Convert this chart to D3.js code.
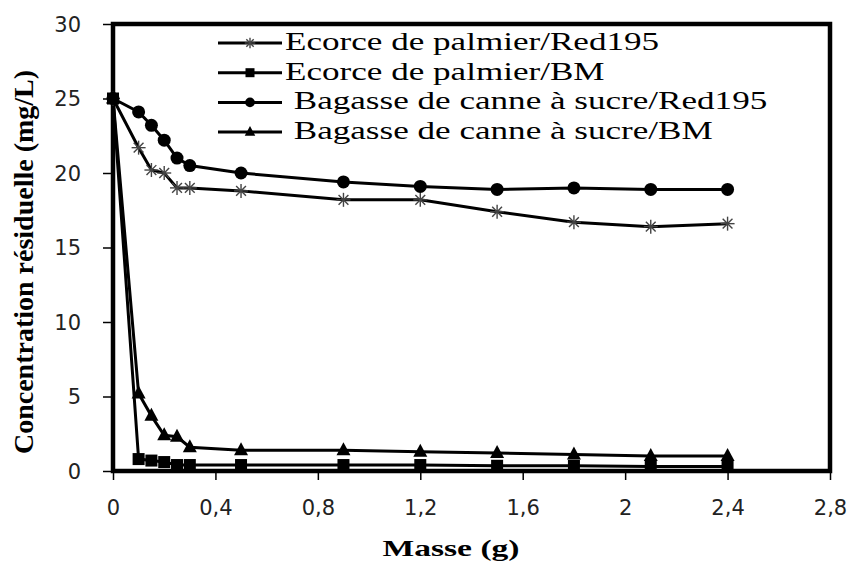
<!DOCTYPE html>
<html>
<head>
<meta charset="utf-8">
<script src="https://cdn.jsdelivr.net/npm/d3@7"></script>
<style>
  body { margin: 0; background: #fff; }
  svg text { fill: #000; }
</style>
</head>
<body>
<div id="chart"></div>
<script>
// masse (g)
const masses = [0, 0.1, 0.15, 0.2, 0.25, 0.3, 0.5, 0.9, 1.2, 1.5, 1.8, 2.1, 2.4];

// residual concentration (mg/L) per series
const ecorceRed = [25, 21.7, 20.2, 20.0, 19.0, 19.0, 18.8, 18.2, 18.2, 17.4, 16.7, 16.4, 16.6];
const ecorceBM = [25, 0.8, 0.7, 0.6, 0.4, 0.4, 0.4, 0.4, 0.4, 0.35, 0.35, 0.3, 0.3];
const bagasseRed = [25, 24.1, 23.2, 22.2, 21.0, 20.5, 20.0, 19.4, 19.1, 18.9, 19.0, 18.9, 18.9];
const bagasseBM = [25, 5.2, 3.7, 2.4, 2.3, 1.6, 1.4, 1.4, 1.3, 1.2, 1.1, 1.0, 1.0];

const seriesNames = [
    "Ecorce de palmier/Red195",
    "Ecorce de palmier/BM",
    " Bagasse de canne à sucre/Red195",
    " Bagasse de canne à sucre/BM"
];
const xTicks = [0, 0.4, 0.8, 1.2, 1.6, 2, 2.4, 2.8];
const yTicks = [0, 5, 10, 15, 20, 25, 30];

const series = [
    {name: seriesNames[0], values: ecorceRed, marker: "star"},
    {name: seriesNames[1], values: ecorceBM, marker: "square"},
    {name: seriesNames[2], values: bagasseRed, marker: "circle"},
    {name: seriesNames[3], values: bagasseBM, marker: "triangle"}
];

const W = 849, H = 563;
const margin = {top: 24, right: 19, bottom: 92, left: 113};
const serif = "'Liberation Serif', 'Times New Roman', serif";
const sans = "'DejaVu Sans', sans-serif";

const svg = d3.select("#chart").append("svg")
    .attr("width", W)
    .attr("height", H);

const x = d3.scaleLinear().domain([0, 2.8]).range([margin.left, W - margin.right]);
const y = d3.scaleLinear().domain([0, 30]).range([H - margin.bottom, margin.top]);

// x axis ticks + labels
const fmt = d => String(d).replace(".", ",");
const xAxis = svg.append("g")
    .attr("transform", `translate(0,${y(0)})`)
    .call(d3.axisBottom(x).tickValues(xTicks).tickFormat(fmt).tickSize(9).tickSizeOuter(0));
xAxis.select(".domain").remove();
xAxis.selectAll("line").attr("stroke", "#000").attr("stroke-width", 1.5);
xAxis.selectAll("text")
    .attr("dy", "0.35em")
    .attr("y", 37)
    .style("font-family", sans)
    .style("font-size", "21px")
    .style("fill", "#222");

// y axis ticks + labels
const yAxis = svg.append("g")
    .attr("transform", `translate(${x(0)},0)`)
    .call(d3.axisLeft(y).tickValues(yTicks).tickSize(10).tickSizeOuter(0));
yAxis.select(".domain").remove();
yAxis.selectAll("line").attr("stroke", "#000").attr("stroke-width", 1.5);
yAxis.selectAll("text")
    .attr("x", -32)
    .attr("dy", "0.35em")
    .style("font-family", sans)
    .style("font-size", "21px")
    .style("fill", "#222");

// plot frame
svg.append("rect")
    .attr("x", x(0))
    .attr("y", y(30))
    .attr("width", x(2.8) - x(0))
    .attr("height", y(0) - y(30))
    .attr("fill", "none")
    .attr("stroke", "#000")
    .attr("stroke-width", 4.5);

// markers
function drawMarker(g, type, cx, cy, k) {
    k = k || 1;
    if (type === "star") {
        const s = 7 * k;
        [[-s, 0, s, 0], [-s * 0.7, -s * 0.7, s * 0.7, s * 0.7], [-s * 0.7, s * 0.7, s * 0.7, -s * 0.7], [0, -s, 0, s]]
            .forEach(l => g.append("line")
                .attr("x1", cx + l[0]).attr("y1", cy + l[1])
                .attr("x2", cx + l[2]).attr("y2", cy + l[3])
                .attr("stroke", "#444").attr("stroke-width", 1.4));
    } else if (type === "square") {
        g.append("rect").attr("x", cx - 6 * k).attr("y", cy - 6 * k)
            .attr("width", 12 * k).attr("height", 12 * k).attr("fill", "#000");
    } else if (type === "circle") {
        g.append("circle").attr("cx", cx).attr("cy", cy).attr("r", 6.5 * k).attr("fill", "#000");
    } else if (type === "triangle") {
        g.append("path")
            .attr("d", `M${cx},${cy - 8 * k}L${cx + 7 * k},${cy + 5 * k}L${cx - 7 * k},${cy + 5 * k}Z`)
            .attr("fill", "#000");
    }
}

const line = d3.line()
    .x((d, i) => x(masses[i]))
    .y(d => y(d));

const plot = svg.append("g");
series.forEach(s => {
    plot.append("path")
        .attr("d", line(s.values))
        .attr("fill", "none")
        .attr("stroke", "#000")
        .attr("stroke-width", 3);
});
series.forEach(s => {
    const g = plot.append("g");
    s.values.forEach((v, i) => drawMarker(g, s.marker, x(masses[i]), y(v)));
});

// legend (text looks horizontally stretched in the original)
const legend = svg.append("g");
series.forEach((s, i) => {
    const ly = 43 + i * 29.7;
    const g = legend.append("g");
    g.append("line")
        .attr("x1", 218).attr("x2", 282)
        .attr("y1", ly).attr("y2", ly)
        .attr("stroke", "#000").attr("stroke-width", 3);
    drawMarker(g, s.marker, 250, ly, 0.75);
    g.append("text")
        .attr("transform", `translate(285,${ly + 7}) scale(1.35,1)`)
        .attr("xml:space", "preserve")
        .style("font-family", serif)
        .style("font-size", "26px")
        .style("white-space", "pre")
        .text(s.name);
});

// axis titles
svg.append("text")
    .attr("transform", "translate(451,556) scale(1.4,1)")
    .attr("text-anchor", "middle")
    .style("font-family", serif)
    .style("font-weight", "bold")
    .style("font-size", "24px")
    .text("Masse (g)");

svg.append("text")
    .attr("transform", "translate(33,262) rotate(-90)")
    .attr("text-anchor", "middle")
    .style("font-family", serif)
    .style("font-weight", "bold")
    .style("font-size", "28px")
    .text("Concentration résiduelle (mg/L)");
</script>
</body>
</html>
